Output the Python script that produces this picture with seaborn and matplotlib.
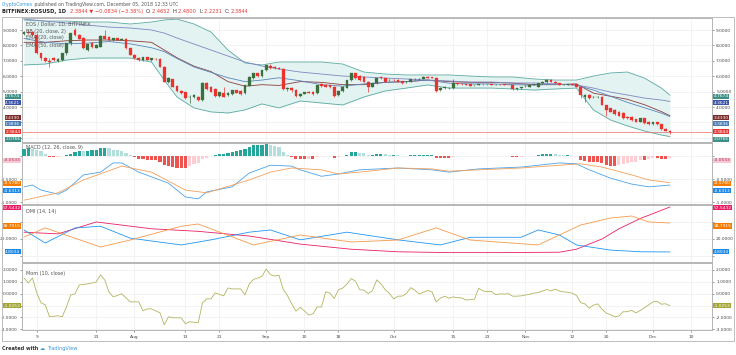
import numpy as np
import pandas as pd
import matplotlib
matplotlib.use("Agg")
import matplotlib.pyplot as plt
import matplotlib.dates as mdates
from matplotlib.ticker import FixedLocator, FuncFormatter
from matplotlib.patches import Rectangle
import seaborn as sns

# ------------------------------------------------------------------ data
start = "2018-07-06"

opens = [8.75, 8.88, 8.86, 8.70, 7.48, 7.16, 6.98, 7.18, 7.00, 7.02,
         7.48, 8.13, 8.98, 8.68, 8.46, 7.70, 8.13, 7.85, 7.92, 8.63,
         8.55, 8.35, 8.46, 8.38, 8.40, 7.81, 7.38, 7.20, 7.05, 7.22,
         7.05, 7.14, 7.12, 6.62, 5.64, 5.80, 5.36, 5.05, 4.95, 4.62,
         4.62, 4.67, 4.45, 5.54, 5.30, 5.20, 4.71, 4.93, 4.76, 4.82,
         5.08, 5.04, 4.89, 5.39, 5.86, 6.19, 6.01, 6.40, 6.69, 6.62,
         6.55, 6.47, 5.17, 5.26, 5.12, 4.71, 4.86, 4.97, 4.99, 4.88,
         5.50, 5.42, 5.40, 5.32, 4.78, 5.04, 5.26, 5.75, 6.19, 6.01,
         5.97, 5.64, 5.32, 5.54, 5.97, 5.86, 5.74, 5.76, 5.75, 5.69,
         5.62, 5.64, 5.82, 5.81, 5.82, 5.97, 5.95, 5.90, 5.10, 5.21,
         5.21, 5.21, 5.54, 5.50, 5.47, 5.47, 5.42, 5.43, 5.49, 5.48,
         5.49, 5.44, 5.45, 5.47, 5.43, 5.43, 5.17, 5.21, 5.35, 5.32,
         5.43, 5.32, 5.54, 5.60, 5.78, 5.64, 5.54, 5.43, 5.46, 5.47,
         5.47, 5.32, 4.67, 4.78, 4.66, 4.65, 4.67, 4.13, 3.91, 3.81,
         3.70, 3.63, 3.37, 3.37, 3.20, 3.05, 3.26, 3.05, 2.87, 3.00,
         2.87, 2.58, 2.4652]
highs = [8.95, 8.98, 8.95, 8.78, 7.52, 7.27, 7.16, 7.25, 7.15, 7.50,
         8.15, 8.80, 9.10, 8.75, 8.55, 8.10, 8.20, 8.06, 8.68, 9.00,
         8.60, 8.50, 8.50, 8.48, 8.45, 7.85, 7.42, 7.25, 7.25, 7.26,
         7.18, 7.18, 7.16, 6.66, 5.92, 5.85, 5.42, 5.12, 5.00, 4.75,
         4.82, 4.72, 5.60, 5.60, 5.36, 5.24, 4.98, 5.32, 4.96, 5.10,
         5.12, 5.08, 5.46, 6.00, 6.22, 6.24, 6.42, 6.76, 6.78, 6.68,
         6.60, 6.52, 5.30, 5.32, 5.16, 4.90, 4.99, 5.02, 5.03, 5.46,
         5.56, 5.48, 5.44, 5.36, 5.08, 5.35, 5.78, 6.22, 6.24, 6.05,
         6.02, 5.68, 5.58, 5.90, 6.02, 5.90, 5.85, 5.84, 5.80, 5.72,
         5.68, 5.85, 5.86, 5.86, 6.00, 6.00, 5.98, 5.93, 5.30, 5.35,
         5.28, 5.80, 5.58, 5.55, 5.50, 5.50, 5.46, 5.52, 5.52, 5.52,
         5.52, 5.48, 5.48, 5.50, 5.46, 5.46, 5.24, 5.32, 5.40, 5.45,
         5.50, 5.56, 5.66, 5.82, 5.82, 5.67, 5.57, 5.47, 5.50, 5.50,
         5.50, 5.35, 4.82, 4.82, 4.72, 4.72, 4.70, 4.16, 3.95, 3.85,
         3.74, 3.66, 3.40, 3.40, 3.24, 3.30, 3.30, 3.08, 3.04, 3.04,
         2.90, 2.62, 2.48]
lows = [8.65, 8.75, 8.68, 7.42, 7.05, 6.90, 6.62, 6.98, 6.95, 6.98,
        7.40, 8.05, 8.62, 8.40, 7.78, 7.65, 7.85, 7.80, 7.90, 8.40,
        8.30, 8.30, 8.33, 8.34, 7.78, 7.35, 7.12, 7.00, 7.00, 7.02,
        7.00, 7.06, 6.58, 5.60, 5.58, 5.28, 5.00, 4.85, 4.52, 4.24,
        4.58, 4.40, 4.42, 5.12, 4.96, 4.68, 4.66, 4.64, 4.72, 4.78,
        4.90, 4.78, 4.86, 5.36, 5.82, 5.98, 5.98, 6.36, 6.48, 6.50,
        6.44, 5.12, 5.05, 4.99, 4.66, 4.66, 4.82, 4.90, 4.78, 4.85,
        5.30, 5.28, 5.26, 4.68, 4.74, 5.00, 5.22, 5.70, 5.82, 5.72,
        5.60, 4.99, 5.28, 5.50, 5.82, 5.60, 5.68, 5.70, 5.62, 5.50,
        5.58, 5.60, 5.78, 5.78, 5.80, 5.86, 5.86, 5.00, 5.06, 5.18,
        5.18, 5.18, 5.44, 5.44, 5.40, 5.36, 5.39, 5.40, 5.46, 5.45,
        5.40, 5.41, 5.42, 5.40, 5.40, 5.12, 5.12, 5.18, 5.32, 5.30,
        5.40, 5.30, 5.50, 5.56, 5.60, 5.50, 5.40, 5.40, 5.43, 5.43,
        5.30, 4.56, 4.35, 4.52, 4.60, 4.60, 4.10, 3.44, 3.66, 3.48,
        3.40, 3.22, 3.22, 3.12, 3.02, 3.00, 2.90, 2.84, 2.84, 2.84,
        2.52, 2.42, 2.2231]
closes = [8.88, 8.80, 8.70, 7.48, 7.16, 6.98, 6.95, 7.05, 7.12, 7.48,
          8.13, 8.78, 8.68, 8.42, 7.81, 8.07, 7.92, 8.03, 8.63, 8.42,
          8.35, 8.46, 8.38, 8.44, 7.81, 7.38, 7.16, 7.05, 7.22, 7.05,
          7.16, 7.10, 6.62, 5.64, 5.86, 5.32, 5.05, 4.89, 4.56, 4.66,
          4.78, 4.45, 5.54, 5.17, 5.00, 4.71, 4.95, 4.67, 4.93, 5.08,
          4.93, 4.82, 5.43, 5.97, 6.19, 6.01, 6.40, 6.73, 6.51, 6.55,
          6.47, 5.17, 5.26, 5.12, 4.71, 4.86, 4.95, 4.93, 4.82, 5.43,
          5.35, 5.32, 5.30, 4.71, 5.04, 5.32, 5.75, 6.19, 5.86, 5.75,
          5.64, 5.32, 5.54, 5.86, 5.86, 5.64, 5.76, 5.74, 5.64, 5.54,
          5.65, 5.82, 5.81, 5.83, 5.97, 5.90, 5.90, 5.04, 5.26, 5.32,
          5.26, 5.54, 5.47, 5.47, 5.43, 5.39, 5.43, 5.49, 5.48, 5.49,
          5.43, 5.45, 5.44, 5.43, 5.42, 5.17, 5.21, 5.30, 5.36, 5.43,
          5.47, 5.54, 5.64, 5.78, 5.64, 5.54, 5.43, 5.44, 5.47, 5.46,
          5.32, 4.78, 4.78, 4.56, 4.67, 4.68, 4.13, 3.81, 3.70, 3.52,
          3.44, 3.26, 3.26, 3.16, 3.05, 3.26, 2.94, 2.87, 3.00, 2.87,
          2.55, 2.4678, 2.3844]

band_days = [0, 5, 10, 15, 20, 25, 30, 33, 36, 40, 44, 48, 52, 56, 60, 65, 70, 75,
             80, 85, 90, 95, 100, 105, 110, 115, 120, 125, 130, 134, 138, 142, 146,
             150, 152]
bb_upper = [9.65, 9.58, 9.58, 9.52, 9.52, 9.39, 9.52, 9.65, 9.71, 9.39, 8.87, 7.70,
            6.86, 6.73, 6.92, 6.92, 6.92, 6.79, 6.27, 6.14, 6.08, 6.08, 6.08, 6.01,
            5.95, 5.95, 5.82, 5.75, 5.75, 6.01, 6.21, 6.27, 5.88, 5.23, 4.7674]
bb_lower = [6.73, 6.79, 7.05, 7.18, 7.18, 7.18, 6.92, 5.75, 4.65, 3.94, 3.68, 3.61,
            3.81, 4.20, 3.94, 4.39, 4.26, 4.13, 4.65, 5.04, 5.23, 5.43, 5.23, 5.23,
            5.23, 5.17, 5.10, 5.17, 5.23, 3.81, 3.16, 2.77, 2.44, 2.18, 2.0766]
bb_basis = [8.20, 8.20, 8.30, 8.35, 8.35, 8.30, 8.20, 7.70, 7.20, 6.65, 6.30, 5.65,
            5.35, 5.45, 5.40, 5.65, 5.60, 5.45, 5.45, 5.60, 5.65, 5.75, 5.65, 5.60,
            5.60, 5.55, 5.45, 5.45, 5.50, 4.90, 4.70, 4.50, 4.15, 3.70, 3.4330]
ema20_vals = [8.45, 8.20, 8.10, 8.15, 8.25, 8.10, 7.85, 7.60, 7.15, 6.60, 6.25, 5.90,
              5.65, 5.75, 5.90, 5.70, 5.45, 5.35, 5.50, 5.60, 5.65, 5.75, 5.55, 5.50,
              5.50, 5.45, 5.42, 5.50, 5.42, 5.10, 4.70, 4.30, 3.95, 3.60, 3.3836]
ema50_vals = [9.71, 9.58, 9.45, 9.32, 9.19, 9.13, 9.00, 8.80, 8.48, 8.09, 7.70, 7.31,
              6.92, 6.66, 6.47, 6.27, 6.14, 6.01, 5.95, 5.88, 5.82, 5.75, 5.69, 5.62,
              5.62, 5.56, 5.56, 5.49, 5.43, 5.23, 4.97, 4.78, 4.58, 4.45, 4.3621]

macd_hist = [0.15, 0.17, 0.16, 0.13, 0.10, 0.05,
             -0.02, -0.03, -0.02, -0.01,
             0.02, 0.05, 0.09, 0.11, 0.10, 0.10, 0.12,
             0.14, 0.17, 0.18, 0.17,
             0.14, 0.12, 0.10, 0.06, 0.02,
             -0.03, -0.06, -0.07, -0.08, -0.08,
             -0.09, -0.12, -0.19, -0.21, -0.24, -0.26, -0.26, -0.26, -0.22,
             -0.18, -0.15, -0.07, -0.04,
             0.00, 0.02, 0.04, 0.05, 0.07, 0.09, 0.10, 0.12, 0.16, 0.20, 0.23,
             0.24, 0.25, 0.26, 0.24, 0.22, 0.19,
             0.08, 0.02, -0.02, -0.06, -0.07,
             -0.07, -0.06, -0.06, -0.02, 0.00, 0.01, 0.01, -0.04,
             -0.03, -0.01, 0.03, 0.08, 0.08, 0.07, 0.06,
             0.03, 0.03, 0.05, 0.05, 0.04, 0.03, 0.03, 0.02, 0.01, 0.01,
             0.02, 0.02, 0.02, 0.03, 0.03, 0.03,
             -0.04, -0.05, -0.05, -0.05, -0.02,
             -0.01, -0.01, -0.01, -0.01, 0.00, 0.00, 0.01, 0.01, 0.01,
             0.01, 0.01, 0.01, -0.01, -0.03, -0.03, -0.02, -0.01, 0.00, 0.01,
             0.02, 0.04, 0.05, 0.05, 0.04, 0.03, 0.02, 0.02, 0.01, -0.01,
             -0.08, -0.10, -0.12, -0.12, -0.12, -0.15, -0.20, -0.21, -0.21, -0.20,
             -0.18, -0.16, -0.14, -0.12, -0.08, -0.08, -0.07, -0.05, -0.05, -0.06,
             -0.06, -0.0533]
macd_days = [0, 2, 4, 8, 10, 14, 18, 21, 23, 24, 27, 34, 38, 41, 43, 49, 53, 58, 63,
             65, 70, 74, 79, 88, 96, 100, 107, 117, 126, 130, 133, 138, 143, 147, 152]
macd_vals = [-0.67, -0.63, -0.74, -0.83, -0.74, -0.41, -0.35, -0.15, -0.15, -0.20,
             -0.35, -0.59, -0.89, -0.93, -0.78, -0.67, -0.37, -0.20, -0.22, -0.30,
             -0.44, -0.39, -0.30, -0.26, -0.30, -0.35, -0.28, -0.24, -0.15, -0.17,
             -0.30, -0.48, -0.61, -0.67, -0.6313]
signal_days = [0, 8, 14, 23, 30, 38, 43, 53, 58, 63, 70, 74, 79, 88, 96, 100, 107,
               117, 126, 131, 136, 143, 147, 152]
signal_vals = [-0.96, -0.80, -0.52, -0.22, -0.35, -0.74, -0.80, -0.52, -0.35, -0.26,
               -0.30, -0.39, -0.35, -0.26, -0.28, -0.33, -0.30, -0.26, -0.20, -0.17,
               -0.24, -0.41, -0.52, -0.5780]

adx_days = [0, 8, 17, 30, 41, 53, 65, 77, 88, 100, 112, 126, 130, 136, 140, 145, 152]
adx_vals = [28, 26, 40, 32, 29, 23.5, 14, 8, 5, 4, 4, 4.5, 8, 20, 32, 44, 57.5432]
plus_di_days = [0, 5, 12, 18, 25, 37, 44, 53, 58, 65, 76, 88, 98, 105, 117, 121, 126,
                130, 138, 145, 152]
plus_di_vals = [30.6, 15.3, 33, 35, 21, 13, 19, 28, 30.6, 19, 28, 19, 13, 22, 22,
                30.6, 24.7, 13, 7, 5, 4.8034]
minus_di_days = [0, 5, 18, 25, 37, 41, 54, 65, 77, 88, 97, 105, 121, 131, 138, 143,
                 147, 152]
minus_di_vals = [22.3, 33, 10.6, 18.8, 35, 37.6, 13, 24.7, 16.5, 18.8, 33, 18.8, 13,
                 36.4, 44.6, 47, 40, 38.7915]

mom_days = [0, 1, 2, 3, 4, 5, 6, 8, 9, 10, 11, 12, 13, 15, 17, 18, 19, 20, 21, 23,
            25, 27, 28, 29, 30, 32, 33, 34, 35, 37, 38, 39, 41, 42, 43, 44, 45, 47,
            48, 49, 51, 52, 53, 54, 55, 56, 57, 58, 59, 60, 61, 62, 63, 64, 65, 66,
            67, 68, 69, 70, 71, 72, 73, 74, 75, 76, 77, 78, 79, 80, 81, 82, 83, 84,
            85, 86, 87, 88, 89, 90, 91, 92, 93, 94, 95, 96, 97, 98, 99, 100, 101,
            102, 103, 104, 105, 106, 107, 108, 109, 110, 111, 112, 113, 114, 115,
            116, 117, 118, 119, 120, 121, 122, 123, 124, 125, 126, 127, 128, 129,
            130, 131, 132, 133, 134, 135, 136, 137, 138, 139, 140, 141, 142, 143,
            144, 145, 146, 147, 148, 149, 150, 151, 152]
mom_vals = [1.31, 0.89, 1.31, 0.06, -0.78, -0.94, -1.94, -1.86, -1.94, -1.11,
            -0.11, -0.02, 0.72, 0.81, 0.97, 1.56, 1.14, 0.14, -0.28, -0.02,
            -0.69, -0.69, -1.44, -1.28, -1.28, -1.61, -2.61, -1.94, -2.03, -2.03,
            -2.53, -2.36, -2.44, -0.78, -0.44, -0.44, 0.06, -0.19, 0.47, 0.39,
            0.39, -0.11, 0.80, 1.19, 1.30, 1.45, 2.05, 1.58, 1.47, 1.54, 0.35,
            -0.17, -0.85, -1.48, -1.15, -1.45, -1.80, -1.69, -1.12, -1.12, 0.15,
            0.04, -0.41, 0.33, 0.46, 0.80, 1.26, 1.04, 0.32, 0.29, 0.00, 0.24,
            1.15, 0.82, 0.32, 0.01, -0.45, -0.22, -0.21, 0.01, 0.50, 0.27, -0.03,
            0.11, 0.26, 0.14, -0.70, -0.38, -0.22, -0.39, -0.28, -0.34, -0.36,
            -0.54, -0.51, -0.47, 0.45, 0.22, 0.17, 0.17, -0.09, -0.03, -0.04,
            -0.01, -0.22, -0.22, -0.19, -0.12, -0.06, 0.04, 0.09, 0.20, 0.35,
            0.22, 0.37, 0.22, 0.14, 0.11, 0.03, -0.15, -0.76, -0.86, -1.22, -0.97,
            -0.86, -1.30, -1.63, -1.77, -1.94, -1.88, -1.52, -1.52, -1.40, -1.62,
            -1.42, -1.19, -0.94, -0.70, -0.65, -0.89, -0.85, -1.0253]

tick_dates = ["2018-07-09", "2018-07-23", "2018-08-01", "2018-08-13", "2018-08-21",
              "2018-09-01", "2018-09-10", "2018-09-18", "2018-10-01", "2018-10-15",
              "2018-10-23", "2018-11-01", "2018-11-12", "2018-11-20", "2018-12-01",
              "2018-12-10"]
tick_labels = ["9", "23", "Aug", "13", "21", "Sep", "10", "18", "Oct", "15", "23",
               "Nov", "12", "20", "Dec", "10"]

price_ticks = [2, 3, 4, 5, 6, 7, 8, 9]
macd_ticks = [0.0, -0.5, -1.0]
dmi_ticks = [0, 20, 40]
mom_ticks = [2, 1, 0, -1, -2, -3]

# ------------------------------------------------------------------ style
sns.set_theme(style="white")
plt.rcParams["font.family"] = ["DejaVu Sans"]

W, H = 736, 355
fig = plt.figure(figsize=(W / 100, H / 100), dpi=100)
fig.patch.set_facecolor("white")

t0 = pd.Timestamp(start)


def to_x(days):
    return mdates.date2num(t0 + pd.to_timedelta(np.asarray(days, dtype=float), unit="D"))


xs = to_x(np.arange(len(closes)))
x_left = to_x([-0.47])[0]
x_right = to_x([161.9])[0]
xticks = mdates.date2num(pd.to_datetime(tick_dates))

TXT = "#4a4a4a"
GRID = "#eeeeee"
FS = 3.2


def panel(y0, y1, yl, ticks, hidden=()):
    ax = fig.add_axes([22 / W, 1 - y1 / H, 690 / W, (y1 - y0) / H])
    ax.set_xlim(x_left, x_right)
    ax.set_ylim(*yl)
    ax.set_facecolor("white")
    for s in ax.spines.values():
        s.set_color("#b5b5b5")
        s.set_linewidth(0.7)
    ax.yaxis.set_major_locator(FixedLocator(ticks))
    ax.yaxis.set_major_formatter(FuncFormatter(
        lambda v, p: "" if any(abs(v - hh) < 1e-9 for hh in hidden) else f"{v:.4f}"))
    ax.tick_params(axis="y", which="both", left=True, right=True, labelleft=True,
                   labelright=True, labelsize=FS, colors=TXT, length=1.5,
                   width=0.4, pad=1.5)
    ax.xaxis.set_major_locator(FixedLocator(xticks))
    ax.tick_params(axis="x", bottom=False, labelbottom=False)
    ax.grid(True, color=GRID, linewidth=0.5)
    ax.set_axisbelow(True)
    ax.set_xlabel("")
    ax.set_ylabel("")
    return ax


def box(ax, val, color, off_px=0.0, tcolor="white"):
    for side in ("left", "right"):
        xa = 0.0 if side == "left" else 1.0
        dx = -1.2 if side == "left" else 1.2
        ax.annotate(f"{val:.4f}", xy=(xa, val), xycoords=("axes fraction", "data"),
                    xytext=(dx, off_px * 0.72), textcoords="offset points",
                    ha="right" if side == "left" else "left", va="center",
                    fontsize=FS, color=tcolor, annotation_clip=False, zorder=20,
                    bbox=dict(boxstyle="square,pad=0.12", fc=color, ec="none"))


def legend(lines, y_px0):
    for k, s in enumerate(lines):
        fig.text(26 / W, 1 - (y_px0 + 7 * k) / H, s, fontsize=3.5, color="#555555",
                 va="center", ha="left", zorder=30)


# ------------------------------------------------------------------ price panel
axp = panel(18, 142, (1.727, 9.78), price_ticks, hidden=(2, 3))
bx = to_x(band_days)
axp.fill_between(bx, bb_lower, bb_upper, color="#e2f3f1", zorder=1, linewidth=0)
sns.lineplot(x=bx, y=bb_upper, ax=axp, color="#5aa9a1", linewidth=0.6, estimator=None)
sns.lineplot(x=bx, y=bb_lower, ax=axp, color="#5aa9a1", linewidth=0.6, estimator=None)
sns.lineplot(x=bx, y=bb_basis, ax=axp, color="#8e3b3b", linewidth=0.6, estimator=None)
sns.lineplot(x=bx, y=ema20_vals, ax=axp, color="#5b86bd", linewidth=0.6, estimator=None)
sns.lineplot(x=bx, y=ema50_vals, ax=axp, color="#7f86c2", linewidth=0.6, estimator=None)
axp.axhline(closes[-1], color="#f06a6a", linewidth=0.5, zorder=2)

o = np.array(opens)
c = np.array(closes)
hi = np.array(highs)
lo = np.array(lows)
up = c >= o
UPC, DNC = "#3b6f3e", "#e8332f"
cols = np.where(up, UPC, DNC)
axp.vlines(xs, lo, hi, colors=cols, linewidth=0.5, zorder=4)
body_b = np.minimum(o, c)
body_h = np.maximum(np.abs(c - o), 0.015)
axp.bar(xs[up], body_h[up], bottom=body_b[up], width=0.66, color=UPC,
        edgecolor=UPC, linewidth=0.2, zorder=5)
axp.bar(xs[~up], body_h[~up], bottom=body_b[~up], width=0.66, color=DNC,
        edgecolor=DNC, linewidth=0.2, zorder=5)

box(axp, 4.7674, "#3d8f87", -1)
box(axp, 4.3621, "#3d55a8", -1.5)
box(axp, 3.4330, "#7c2b2b", -2.2)
box(axp, 3.3836, "#4b7cb3", -7.2)
box(axp, 2.3844, "#e53935", 0)
box(axp, 2.0766, "#3d8f87", -2.5)
legend(["EOS / Dollar, 1D, BITFINEX", "BB (20, close, 2)", "EMA (20, close)",
        "EMA (50, close)"], 24)

# ------------------------------------------------------------------ MACD panel
axm = panel(143, 204, (-1.043, 0.283), macd_ticks, hidden=(0.0,))
h = np.array(macd_hist)
prev = np.concatenate([[h[0]], h[:-1]])
hcols = np.where(h >= 0, np.where(h >= prev, "#26a69a", "#b2dfdb"),
                 np.where(h <= prev, "#ef5350", "#ffcdd2"))
axm.bar(xs, h, width=0.72, color=hcols, linewidth=0, zorder=3)
sns.lineplot(x=to_x(macd_days), y=macd_vals, ax=axm, color="#4aa3ea",
             linewidth=0.6, estimator=None)
sns.lineplot(x=to_x(signal_days), y=signal_vals, ax=axm, color="#f4a05a",
             linewidth=0.6, estimator=None)
box(axm, -0.0533, "#f8c8d4", -2, tcolor="#b03050")
box(axm, -0.5780, "#f57c00", -0.5)
box(axm, -0.6313, "#1e88e5", -5.8)
legend(["MACD (12, 26, close, 9)"], 148)

# ------------------------------------------------------------------ DMI panel
axd = panel(205, 262, (-7.0, 59.9), dmi_ticks, hidden=(0, 40))
sns.lineplot(x=to_x(adx_days), y=adx_vals, ax=axd, color="#e91e63", linewidth=0.6,
             estimator=None)
sns.lineplot(x=to_x(plus_di_days), y=plus_di_vals, ax=axd, color="#2196f3",
             linewidth=0.6, estimator=None)
sns.lineplot(x=to_x(minus_di_days), y=minus_di_vals, ax=axd, color="#f59a4a",
             linewidth=0.6, estimator=None)
box(axd, 57.5432, "#e91e63", -0.5)
box(axd, 38.7915, "#f57c00", -3)
box(axd, 4.8034, "#1e88e5", 0)
legend(["DMI (14, 14)"], 211)

# ------------------------------------------------------------------ Momentum panel
axo = panel(263, 330, (-3.05, 2.56), mom_ticks, hidden=(-1,))
sns.lineplot(x=to_x(mom_days), y=mom_vals, ax=axo, color="#b3b45e", linewidth=0.6,
             estimator=None)
box(axo, -1.0253, "#a3a535", 0)
legend(["Mom (10, close)"], 273)
axo.tick_params(axis="x", bottom=True, labelbottom=True, labelsize=FS, colors=TXT,
                length=1.5, width=0.4, pad=2)
axo.set_xticks(xticks)
axo.set_xticklabels(tick_labels)

# ------------------------------------------------------------------ frame & header
fig.patches.append(Rectangle((2 / W, 1 - 341 / H), 732 / W, 324 / H, fill=False,
                             edgecolor="#bdbdbd", linewidth=0.7,
                             transform=fig.transFigure, zorder=0))

renderer = fig.canvas.get_renderer()


def seq_text(x_px, y_px, parts, size):
    for s, col, wt in parts:
        t = fig.text(x_px / W, 1 - y_px / H, s, fontsize=size, color=col,
                     fontweight=wt, va="center", ha="left")
        x_px += t.get_window_extent(renderer).width


seq_text(2, 4.5, [("CryptoComes", "#3a9ad9", "normal"),
                  (" published on TradingView.com, December 05, 2018 12:33 UTC",
                   "#555555", "normal")], 3.3)
RED = "#e53935"
seq_text(2, 11.5, [("BITFINEX:EOSUSD, 1D  ", "#222222", "bold"),
                   ("2.3844 \u25bc \u22120.0834 (\u22123.38%)  ", RED, "normal"),
                   ("O:", "#333333", "normal"), ("2.4652  ", RED, "normal"),
                   ("H:", "#333333", "normal"), ("2.4800  ", RED, "normal"),
                   ("L:", "#333333", "normal"), ("2.2231  ", RED, "normal"),
                   ("C:", "#333333", "normal"), ("2.3844", RED, "normal")], 3.7)
seq_text(2, 348.5, [("Created with ", "#333333", "bold"),
                    ("\u2601 ", "#3a9ad9", "normal"),
                    ("TradingView", "#3a9ad9", "normal")], 3.6)

fig.savefig("out.png", dpi=100)
